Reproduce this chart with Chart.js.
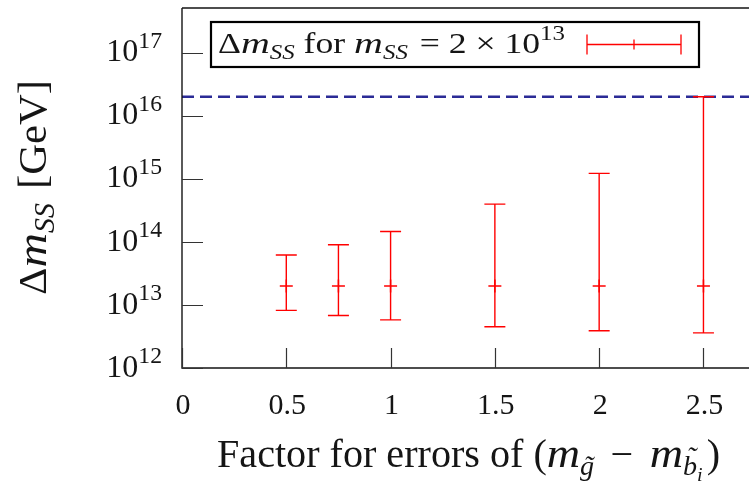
<!DOCTYPE html>
<html>
<head>
<meta charset="utf-8">
<script src="https://cdn.jsdelivr.net/npm/chart.js@4/dist/chart.umd.min.js"></script>
<style>
  html, body { margin: 0; padding: 0; background: #fff; }
  #wrap { width: 749px; height: 483px; }
</style>
</head>
<body>
<div id="wrap"><canvas id="c" width="749" height="483"></canvas></div>
<script>
// Error-scaling factors and the resulting Δm_SS ranges (GeV)
const factors     = [0.5, 0.75, 1.0, 1.5, 2.0, 2.5];
const centralMass = [2e13, 2e13, 2e13, 2e13, 2e13, 2e13];
const upperMass   = [6.2e13, 9.0e13, 1.46e14, 3.96e14, 1.22e15, 2.0e16];
const lowerMass   = [8.2e12, 6.8e12, 5.8e12, 4.5e12, 3.9e12, 3.6e12];

// Reference level drawn as a dashed line
const refLineX = [0, 2.76];
const refLineY = [2e16, 2e16];

// Axis ticks
const xTicks      = [0, 0.5, 1, 1.5, 2, 2.5];
const xTickLabels = ['0', '0.5', '1', '1.5', '2', '2.5'];
const yTickExps   = [12, 13, 14, 15, 16, 17];

const X_MIN = 0, X_MAX = 2.68;
const Y_MIN = 1e12, Y_MAX = 5.1e17;

const RED = '#ff0000';
const BLUE = '#2b2b96';
const INK = '#151515';
const SERIF = '"Liberation Serif", "DejaVu Serif", serif';

function fontFor(seg, size) {
  const px = Math.round(size * (seg.s || 1) * 10) / 10;
  return (seg.it ? 'italic ' : '') + px + 'px ' + SERIF;
}
function segWidth(ctx, s, size) {
  ctx.font = fontFor(s, size);
  return ctx.measureText(s.t).width * (s.sx || 1) + (s.k || 0) * size;
}
function richWidth(ctx, segs, size) {
  let w = 0;
  for (const s of segs) w += segWidth(ctx, s, size);
  return w;
}
function drawRich(ctx, segs, x, y, size) {
  ctx.textAlign = 'left';
  ctx.textBaseline = 'alphabetic';
  for (const s of segs) {
    ctx.font = fontFor(s, size);
    const yy = y - (s.dy || 0) * size;
    const w = ctx.measureText(s.t).width * (s.sx || 1);
    ctx.save();
    ctx.translate(x, yy);
    ctx.scale(s.sx || 1, 1);
    ctx.fillText(s.t, 0, 0);
    ctx.restore();
    if (s.acc) {
      ctx.textAlign = 'center';
      ctx.fillText('\u02DC', x + w * 0.6, yy - (s.accUp || 0) * size);
      ctx.textAlign = 'left';
    }
    x += w + (s.k || 0) * size;
  }
}
// draw a run of rich text stretched to a given overall width
function drawFit(ctx, segs, x, y, size, targetW) {
  const f = targetW / richWidth(ctx, segs, size);
  ctx.save();
  ctx.translate(x, y);
  ctx.scale(f, 1);
  drawRich(ctx, segs, 0, 0, size);
  ctx.restore();
}

const sub = 0.7;
const legendSegs = [
  { t: '\u0394' }, { t: 'm', it: true, sx: 1.12 },
  { t: 'SS', it: true, s: sub, dy: -0.2 },
  { t: ' for ' }, { t: 'm', it: true, sx: 1.12 },
  { t: 'SS', it: true, s: sub, dy: -0.2, k: 0.08 },
  { t: ' = 2 \u00D7 10' },
  { t: '13', s: sub, dy: 0.45 }
];
const xTitleSegs = [
  { t: 'Factor for errors of (' },
  { t: 'm', it: true, sx: 1.15 },
  { t: 'g', it: true, s: sub, dy: -0.2, acc: true, accUp: 0.0, k: 0.16 },
  { t: ' \u2212 ', k: 0.16 },
  { t: 'm', it: true, sx: 1.15 },
  { t: 'b', it: true, s: sub, dy: -0.2, acc: true, accUp: 0.22 },
  { t: 'i', it: true, s: 0.5, dy: -0.36, k: 0.1 },
  { t: ')' }
];
const yTitleSegs = [
  { t: '\u0394' }, { t: 'm', it: true, sx: 1.12 },
  { t: 'SS', it: true, s: sub, dy: -0.2, k: 0.08 },
  { t: ' [GeV]' }
];

const frameAndLabels = {
  id: 'frameAndLabels',
  afterDatasetsDraw(chart) {
    const { ctx, scales } = chart;
    const xs = scales.x, ys = scales.y;
    ctx.save();
    // error bars for every factor
    ctx.strokeStyle = RED;
    ctx.lineWidth = 1.4;
    for (let i = 0; i < factors.length; i++) {
      const px = xs.getPixelForValue(factors[i]);
      const pt = ys.getPixelForValue(upperMass[i]);
      const pb = ys.getPixelForValue(lowerMass[i]);
      ctx.beginPath();
      ctx.moveTo(px, pt); ctx.lineTo(px, pb);
      ctx.moveTo(px - 10.5, pt); ctx.lineTo(px + 10.5, pt);
      ctx.moveTo(px - 10.5, pb); ctx.lineTo(px + 10.5, pb);
      ctx.stroke();
    }
    ctx.restore();
  },
  afterDraw(chart) {
    const { ctx, chartArea: a, scales } = chart;
    const xs = scales.x, ys = scales.y;
    ctx.save();
    // frame: left, bottom, top
    ctx.strokeStyle = INK;
    ctx.lineWidth = 1.4;
    ctx.beginPath();
    ctx.moveTo(a.left, a.top); ctx.lineTo(chart.width, a.top);
    ctx.moveTo(a.left, a.top); ctx.lineTo(a.left, a.bottom);
    ctx.lineTo(chart.width, a.bottom);
    ctx.stroke();
    // inward tick marks
    ctx.lineWidth = 1.2;
    ctx.strokeStyle = '#333';
    ctx.beginPath();
    for (const v of xTicks) {
      const px = Math.round(xs.getPixelForValue(v)) + 0.5;
      ctx.moveTo(px, a.bottom); ctx.lineTo(px, a.bottom - 20);
    }
    for (const e of yTickExps) {
      const py = Math.round(ys.getPixelForValue(Math.pow(10, e))) + 0.5;
      ctx.moveTo(a.left, py); ctx.lineTo(a.left + 21, py);
    }
    ctx.stroke();

    ctx.fillStyle = INK;
    // x tick labels
    ctx.font = '30px ' + SERIF;
    ctx.textAlign = 'center';
    ctx.textBaseline = 'alphabetic';
    xTicks.forEach((v, i) => {
      ctx.fillText(xTickLabels[i], xs.getPixelForValue(v) + 1, 414);
    });
    // y tick labels 10^n, right aligned
    for (const e of yTickExps) {
      const py = ys.getPixelForValue(Math.pow(10, e));
      const segs = [{ t: '10' }, { t: String(e), s: 0.74, dy: 0.42 }];
      const w = richWidth(ctx, segs, 32);
      drawRich(ctx, segs, 162 - w, py + 8.7, 32);
    }
    // axis titles
    drawFit(ctx, xTitleSegs, 217, 467, 39, 503);
    ctx.save();
    ctx.translate(46, 187.5);
    ctx.rotate(-Math.PI / 2);
    drawFit(ctx, yTitleSegs, -107.5, 0, 41, 215);
    ctx.restore();

    // legend box
    const L = { x: 211, y: 22, w: 488, h: 45 };
    ctx.fillStyle = '#fff';
    ctx.fillRect(L.x, L.y, L.w, L.h);
    ctx.strokeStyle = '#000';
    ctx.lineWidth = 2.2;
    ctx.strokeRect(L.x, L.y, L.w, L.h);
    ctx.fillStyle = INK;
    drawFit(ctx, legendSegs, 218, 53, 29, 347);
    // legend sample: horizontal error bar
    const ly = 44.5, lx0 = 587, lx1 = 681, lc = 634;
    ctx.strokeStyle = RED;
    ctx.lineWidth = 1.3;
    ctx.beginPath();
    ctx.moveTo(lx0, ly); ctx.lineTo(lx1, ly);
    ctx.moveTo(lx0, ly - 10); ctx.lineTo(lx0, ly + 10);
    ctx.moveTo(lx1, ly - 10); ctx.lineTo(lx1, ly + 10);
    ctx.moveTo(lc, ly - 5); ctx.lineTo(lc, ly + 5);
    ctx.stroke();
    ctx.restore();
  }
};

new Chart(document.getElementById('c'), {
  type: 'scatter',
  data: {
    datasets: [
      {
        type: 'line',
        label: 'reference',
        data: refLineX.map((x, i) => ({ x, y: refLineY[i] })),
        borderColor: BLUE,
        borderWidth: 2.6,
        borderDash: [12, 6],
        pointRadius: 0,
        fill: false,
        clip: false,
        order: 2
      },
      {
        label: 'Δm_SS',
        data: factors.map((x, i) => ({ x, y: centralMass[i] })),
        pointStyle: 'cross',
        pointRadius: 6.5,
        borderColor: RED,
        backgroundColor: RED,
        borderWidth: 1.5,
        order: 1
      }
    ]
  },
  options: {
    responsive: false,
    devicePixelRatio: 1,
    animation: false,
    layout: { padding: { left: 182, top: 7, right: 0, bottom: 115 } },
    plugins: { legend: { display: false }, tooltip: { enabled: false } },
    scales: {
      x: {
        type: 'linear', min: X_MIN, max: X_MAX,
        grid: { display: false }, border: { display: false },
        ticks: { display: false },
        afterFit(s) { s.height = 0; }
      },
      y: {
        type: 'logarithmic', min: Y_MIN, max: Y_MAX,
        grid: { display: false }, border: { display: false },
        ticks: { display: false },
        afterFit(s) { s.width = 0; }
      }
    }
  },
  plugins: [frameAndLabels]
});
</script>
</body>
</html>
